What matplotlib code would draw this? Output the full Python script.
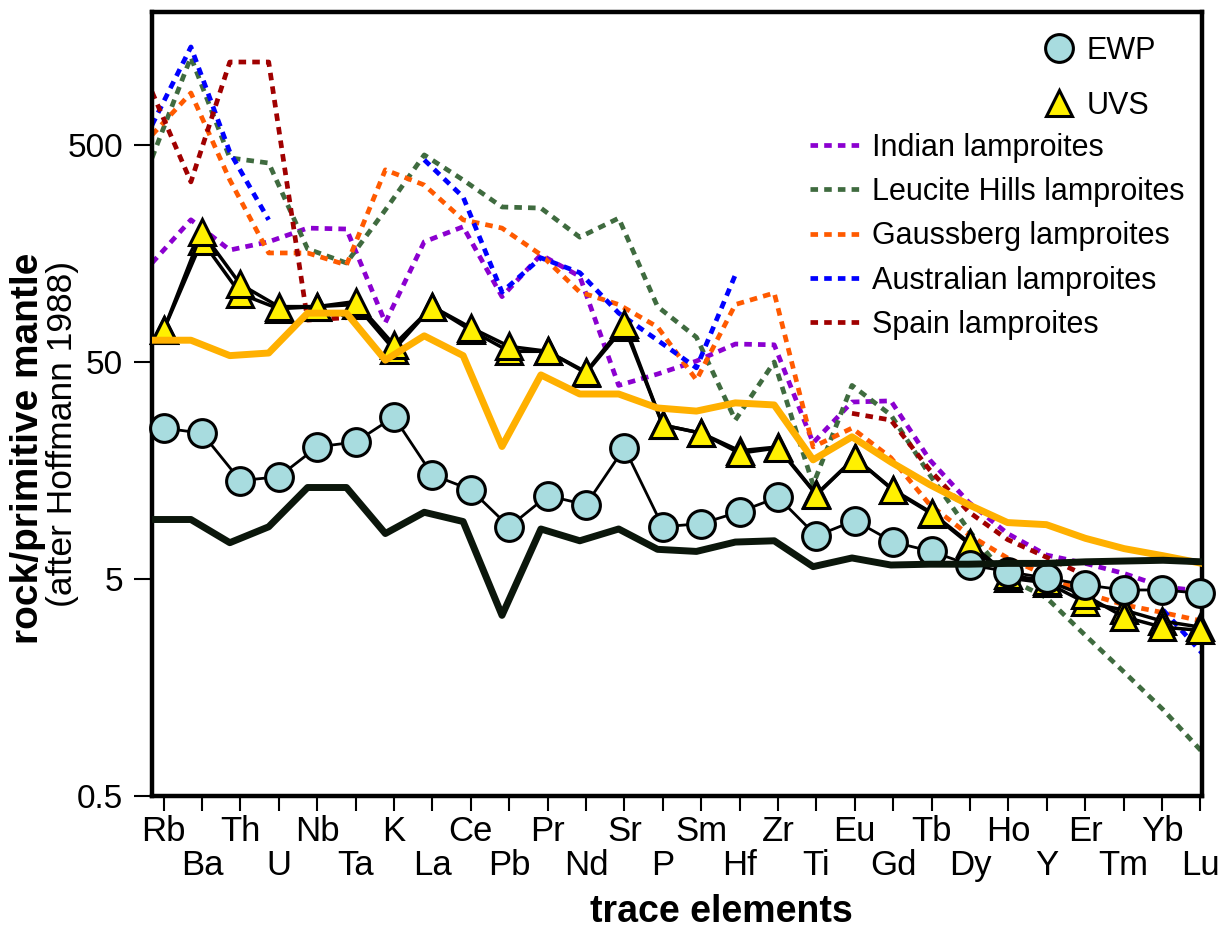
import numpy as np
import matplotlib
matplotlib.use('Agg')
from matplotlib import pyplot as plt
from matplotlib.lines import Line2D
from matplotlib.ticker import FixedLocator, FixedFormatter, NullLocator

plt.rcParams['font.family'] = ['Liberation Sans', 'DejaVu Sans']

nan = np.nan

elements = ['Rb', 'Ba', 'Th', 'U', 'Nb', 'Ta', 'K', 'La', 'Ce', 'Pb', 'Pr', 'Nd', 'Sr', 'P',
            'Sm', 'Hf', 'Zr', 'Ti', 'Eu', 'Gd', 'Tb', 'Dy', 'Ho', 'Y', 'Er', 'Tm', 'Yb', 'Lu']

# samples
ewp = [24.8, 23.5, 14.2, 14.8, 20.3, 21.4, 27.9, 15.1, 12.9, 8.7, 12.1, 11.0, 20.1, 8.7,
       9.0, 10.2, 11.9, 7.9, 9.3, 7.4, 6.7, 5.8, 5.4, 5.05, 4.7, 4.45, 4.45, 4.3]
uvs_a = [70, 199, 114, 90, 90, 95, 60, 90, 72, 59, 56, 45, 75, 25.6,
         23.5, 19.0, 20.1, 12.2, 18.1, 12.9, 10.1, 7.3, 5.2, 4.9, 4.2, 3.35, 3.0, 2.9]
uvs_b = [70, 181, 103, 88, 90, 92, 57, 90, 70, 56, 56, 44.5, 72.5, 25.6,
         23.5, 19.5, 20.3, 12.3, 18.1, 12.8, 10.0, 7.2, 5.05, 4.8, 3.9, 3.6, 3.2, 3.0]

# reference patterns (solid)
ref_orange = [63, 63, 53.5, 55, 84, 84, 51, 66, 53.5, 20.4, 43.6, 35.6, 35.6, 30.7,
              29.7, 32.4, 31.7, 17.7, 22.6, 17.3, 13.6, 11.0, 9.1, 8.9, 7.7, 6.9, 6.4, 5.9]
ref_black = [9.4, 9.4, 7.35, 8.7, 13.2, 13.2, 8.1, 10.15, 9.2, 3.4, 8.5, 7.5, 8.5, 6.85,
             6.7, 7.4, 7.5, 5.7, 6.25, 5.8, 5.85, 5.85, 5.9, 5.9, 6.0, 6.05, 6.1, 6.0]

# lamproites (dashed)
indian = [143, 226, 164, 179, 207, 205, 76, 179, 210, 100, 156, 124, 39, 44,
          50.5, 60.5, 60, 21.2, 32.7, 33.1, 17.7, 11.3, 8.1, 6.45, 5.9, 5.3, 4.6, 4.4]
leucite = [436, 1270, 436, 413, 166, 143, 251, 450, 345, 259, 256, 188, 230, 90,
           65, 27, 50, 13.6, 39, 28.5, 15.1, 8.4, 5.05, 4.1, 2.75, 1.86, 1.25, 0.8]
gaussberg = [556, 868, 345, 159, 159, 140, 384, 327, 226, 207, 156, 105, 92, 72.5,
             41.3, 92, 104, 20.3, 24.8, 18.1, 11.0, 8.0, 6.25, 5.2, 4.3, 3.8, 3.5, 3.2]
australian = [618, 1415, 464, 226, nan, nan, nan, 427, 288, 105, 151, 129, 84, 63,
              47, 126, nan, nan, nan, nan, nan, nan, nan, nan, nan, nan, 3.6, 2.28]
spain = [878, 338, 1206, 1206, 78, 80, nan, nan, nan, nan, nan, nan, nan, nan,
         nan, nan, nan, nan, 29, 27, 15.9, 10.2, 7.6, 6.3, 5.2, nan, nan, nan]

lamproites = [('Indian lamproites', indian, '#8B00D0'),
              ('Leucite Hills lamproites', leucite, '#3F6B3F'),
              ('Gaussberg lamproites', gaussberg, '#FF5A00'),
              ('Australian lamproites', australian, '#0000FF'),
              ('Spain lamproites', spain, '#A00000')]

x = np.arange(len(elements))
dash = (0, (1.6, 1.3))

fig = plt.figure(figsize=(12.26, 9.31), dpi=100)
ax = fig.add_axes([0.124, 0.145, 0.8564, 0.8421])
ax_lo = ax.twiny()
ax_hi = ax.twiny()
ax_lo.set_zorder(0)
ax.set_zorder(1)
ax_hi.set_zorder(2)
ax.patch.set_visible(False)

for a in (ax_lo, ax_hi):
    a.set_xlim(0, len(elements) - 1)
    a.set_xticks([])
    for s in a.spines.values():
        s.set_visible(False)

for name, vals, col in lamproites:
    ax_lo.plot(x, vals, color=col, lw=3.4, ls=dash)

ewp_style = dict(marker='o', ms=20, mfc='#A8DCDF', mec='black', mew=2.2)
uvs_style = dict(marker='^', ms=19, mfc='#FFF000', mec='black', mew=2.2)

ax.plot(x, uvs_b, color='black', lw=2.5, clip_on=False, zorder=3, **uvs_style)
ax.plot(x, uvs_a, color='black', lw=2.5, clip_on=False, zorder=3, **uvs_style)
ax.plot(x, ewp, color='black', lw=2, clip_on=False, zorder=4, **ewp_style)

ax_hi.plot(x, ref_orange, color='#FFB000', lw=5)
ax_hi.plot(x, ref_black, color='#0B160B', lw=5)

ax.set_yscale('log')
ax.set_ylim(0.5, 2050)
ax.set_xlim(-0.3, 27.04)
ax.yaxis.set_major_locator(FixedLocator([0.5, 5, 50, 500]))
ax.yaxis.set_major_formatter(FixedFormatter(['0.5', '5', '50', '500']))
ax.yaxis.set_minor_locator(NullLocator())

ax.set_xticks(x[0::2], labels=elements[0::2])
ax.set_xticks(x[1::2], labels=elements[1::2], minor=True)
ax.tick_params(axis='x', which='both', length=11, width=1.5, labelsize=25, direction='out')
ax.tick_params(axis='x', which='major', pad=3)
ax.tick_params(axis='x', which='minor', pad=27)
ax.tick_params(axis='y', which='major', length=13, width=1.5, pad=8, labelsize=24)

for s in ax.spines.values():
    s.set_linewidth(3.2)

# legends
h1 = [Line2D([], [], ls='none', **ewp_style), Line2D([], [], ls='none', **uvs_style)]
leg1 = ax_hi.legend(h1, ['EWP', 'UVS'], loc='upper left', bbox_to_anchor=(0.829, 0.991),
                    bbox_transform=fig.transFigure, frameon=False, fontsize=22,
                    handlelength=1.0, handletextpad=0.4, labelspacing=0.81, borderpad=0.4)
ax_hi.add_artist(leg1)
h2 = [Line2D([], [], color=c, lw=3.4, ls=dash) for _, _, c in lamproites]
ax_hi.legend(h2, [n for n, _, _ in lamproites], loc='upper left', bbox_to_anchor=(0.638, 0.887),
             bbox_transform=fig.transFigure, frameon=False, fontsize=22,
             handlelength=1.6, handletextpad=0.43, labelspacing=0.47, borderpad=0.4)

fig.text(0.0228, 0.518, 'rock/primitive mantle', rotation=90, fontsize=28,
         fontweight='bold', ha='center', va='center')
fig.text(0.0506, 0.534, '(after Hoffmann 1988)', rotation=90, fontsize=25.5,
         ha='center', va='center')
fig.text(0.588, 0.0204, 'trace elements', fontsize=27, fontweight='bold',
         ha='center', va='center')

fig.savefig('out.png', dpi=100)
